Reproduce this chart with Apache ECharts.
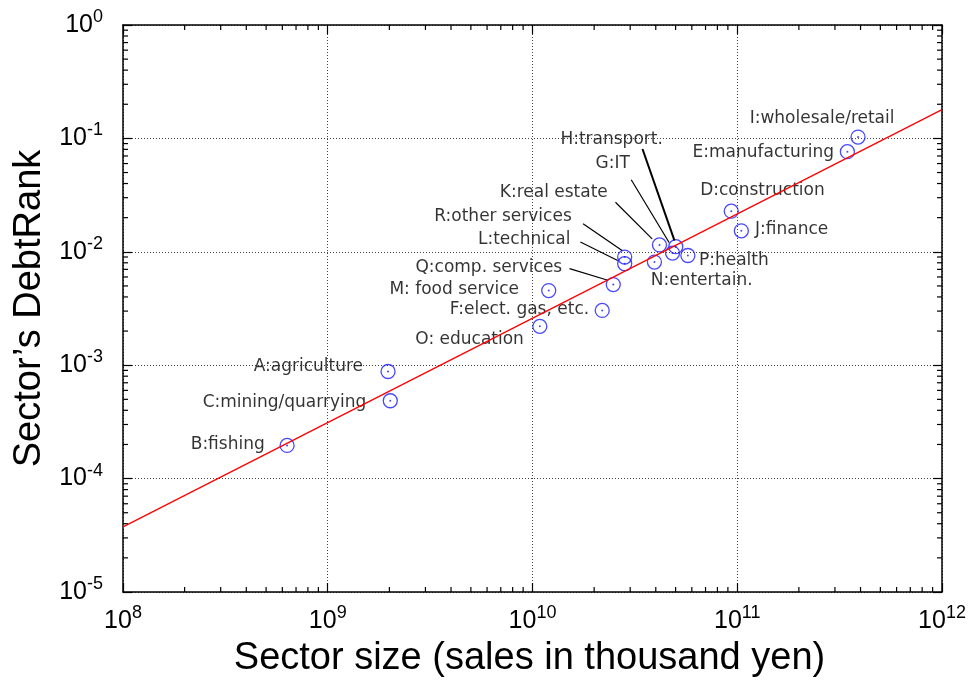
<!DOCTYPE html>
<html>
<head>
<meta charset="utf-8">
<script src="https://cdn.jsdelivr.net/npm/echarts@6/dist/echarts.min.js"></script>
<style>
  html, body { margin: 0; padding: 0; background: #fff; }
  #chart { width: 971px; height: 683px; }
</style>
</head>
<body>
<div id="chart"></div>
<script>
// Sector data: size (sales, thousand yen) vs. DebtRank
const sectorNames = ['A:agriculture', 'B:fishing', 'C:mining/quarrying', 'D:construction',
  'E:manufacturing', 'F:elect. gas, etc.', 'G:IT', 'H:transport.', 'I:wholesale/retail',
  'J:finance', 'K:real estate', 'L:technical', 'M: food service', 'N:entertain.',
  'O: education', 'P:health', 'Q:comp. services', 'R:other services'];
const sectorSize = [1.97e9, 6.33e8, 2.02e9, 9.35e10, 3.45e11, 2.19e10, 4.83e10, 5.01e10,
  3.89e11, 1.047e11, 4.17e10, 2.82e10, 1.20e10, 3.94e10, 1.086e10, 5.74e10, 2.48e10, 2.82e10];
const debtRank = [8.80e-4, 1.96e-4, 4.86e-4, 2.28e-2, 7.64e-2, 3.04e-3, 9.74e-3, 1.11e-2,
  0.1027, 1.53e-2, 1.15e-2, 7.85e-3, 4.55e-3, 8.12e-3, 2.20e-3, 9.28e-3, 5.14e-3, 8.98e-3];

// Power-law fit, evaluated at the ends of the x range
const fitSize = [1e8, 1e12];
const fitDebtRank = [3.75e-5, 0.1796];

// Decades on each axis
const xDecades = [8, 9, 10, 11, 12];
const yDecades = [-5, -4, -3, -2, -1, 0];

// Label placement per sector: [align, dx, dy] in pixels from the marker centre
const labelPlacement = [
  ['right', -24.4, -4], ['right', -21.7, 0], ['right', -23.3, 2.3], ['center', 31.8, -20.3],
  ['right', -12.7, 2], ['right', -12.4, 0], ['right', -42, -89.3], ['right', -12.3, -106],
  ['center', -35.3, -17.7], ['left', 14.3, -1], ['right', -51, -52], ['right', -53.6, -23.3],
  ['right', -29, 0], ['left', -3, 18.7], ['right', -15.3, 14.3], ['left', 11.7, 6],
  ['right', -50.4, -16.7], ['right', -52.3, -40.3]
];
// Leader lines from crowded labels: sector index -> [x1, y1, x2, y2, width]
const leaderLines = {
  6: [-41.3, -73.3, -3.3, -10.3, 1.2],
  7: [-33.3, -97.7, -1.3, -6, 2],
  10: [-44, -42.7, -7.3, -6, 1.2],
  11: [-44.3, -21.7, -7, -3.3, 1.2],
  16: [-43.7, -16, -5.4, -4.3, 1.2],
  17: [-41.6, -33.3, -2.6, -6.6, 1.2]
};

const SYMBOL = 14;
const FONT_AXIS = 'Liberation Sans, Arial, Helvetica, sans-serif';
const FONT_LABEL = 'DejaVu Sans, sans-serif';

const points = sectorSize.map((s, i) => {
  const pl = labelPlacement[i];
  return {
    value: [s, debtRank[i]],
    name: sectorNames[i],
    label: {
      position: [SYMBOL / 2 + pl[1], SYMBOL / 2 + pl[2]],
      align: pl[0],
      verticalAlign: 'middle'
    }
  };
});

const leaderData = Object.keys(leaderLines).map(k => [sectorSize[+k], debtRank[+k], +k]);

// Minor ticks at 2..9 within each decade
const xMinor = [];
xDecades.slice(0, -1).forEach(e => { for (let m = 2; m <= 9; m++) xMinor.push([m * Math.pow(10, e), 1e-3]); });
const yMinor = [];
yDecades.slice(0, -1).forEach(e => { for (let m = 2; m <= 9; m++) yMinor.push([1e10, m * Math.pow(10, e)]); });

const MINOR_LEN = 5;
const powLabel = v => '{b|10}{s|' + Math.round(Math.log10(v)) + '}';
const tickRich = {
  b: { fontFamily: FONT_AXIS, fontSize: 25, color: '#000' },
  s: { fontFamily: FONT_AXIS, fontSize: 18, color: '#000', padding: [0, 0, 16, 0] }
};
const axisLine = { show: true, onZero: false, lineStyle: { color: '#000', width: 1.5 } };
const majorTick = { show: true, inside: true, length: 9, lineStyle: { color: '#000', width: 1.2 } };
const gridLine = { show: true, lineStyle: { color: '#444', width: 1, type: [1, 2] } };

const chart = echarts.init(document.getElementById('chart'), null, { renderer: 'canvas' });
chart.setOption({
  animation: false,
  backgroundColor: '#fff',
  grid: { left: 123, right: 29, top: 25, bottom: 88, containLabel: false },
  xAxis: [{
    type: 'log', logBase: 10, min: 1e8, max: 1e12, position: 'bottom',
    axisLine: axisLine, axisTick: majorTick, splitLine: gridLine,
    axisLabel: { formatter: powLabel, rich: tickRich, margin: 12, showMinLabel: true, showMaxLabel: true },
    name: 'Sector size (sales in thousand yen)', nameLocation: 'middle', nameGap: 48,
    nameTextStyle: { fontFamily: FONT_AXIS, fontSize: 38, color: '#000', padding: [0, 6, 0, 0] }
  }, {
    type: 'log', logBase: 10, min: 1e8, max: 1e12, position: 'top',
    axisLine: axisLine, axisTick: majorTick, splitLine: { show: false }, axisLabel: { show: false }
  }],
  yAxis: [{
    type: 'log', logBase: 10, min: 1e-5, max: 1, position: 'left',
    axisLine: axisLine, axisTick: majorTick, splitLine: gridLine,
    axisLabel: { formatter: powLabel, rich: tickRich, margin: 20, showMinLabel: true, showMaxLabel: true },
    name: 'Sector\u2019s DebtRank', nameLocation: 'middle', nameGap: 72, nameRotate: 90,
    nameTextStyle: { fontFamily: FONT_AXIS, fontSize: 38, color: '#000' }
  }, {
    type: 'log', logBase: 10, min: 1e-5, max: 1, position: 'right',
    axisLine: axisLine, axisTick: majorTick, splitLine: { show: false }, axisLabel: { show: false }
  }],
  series: [
    {
      // minor ticks on the bottom and top axes
      type: 'custom', silent: true, clip: false, data: xMinor,
      renderItem: (params, api) => {
        const p = api.coord([api.value(0), api.value(1)]);
        const cs = params.coordSys;
        const style = { stroke: '#000', lineWidth: 1.2 };
        return { type: 'group', children: [
          { type: 'line', shape: { x1: p[0], y1: cs.y + cs.height, x2: p[0], y2: cs.y + cs.height - MINOR_LEN }, style },
          { type: 'line', shape: { x1: p[0], y1: cs.y, x2: p[0], y2: cs.y + MINOR_LEN }, style }
        ] };
      }
    },
    {
      // minor ticks on the left and right axes
      type: 'custom', silent: true, clip: false, data: yMinor,
      renderItem: (params, api) => {
        const p = api.coord([api.value(0), api.value(1)]);
        const cs = params.coordSys;
        const style = { stroke: '#000', lineWidth: 1.2 };
        return { type: 'group', children: [
          { type: 'line', shape: { x1: cs.x, y1: p[1], x2: cs.x + MINOR_LEN, y2: p[1] }, style },
          { type: 'line', shape: { x1: cs.x + cs.width, y1: p[1], x2: cs.x + cs.width - MINOR_LEN, y2: p[1] }, style }
        ] };
      }
    },
    {
      type: 'scatter', silent: true, data: points,
      symbol: 'circle', symbolSize: SYMBOL,
      itemStyle: { color: 'rgba(0,0,0,0)', borderColor: '#1a1aff', borderWidth: 1.3 },
      label: {
        show: true, formatter: p => p.name,
        fontFamily: FONT_LABEL, fontSize: 17, color: '#000'
      },
      z: 3
    },
    {
      // centre dots of the markers
      type: 'scatter', silent: true,
      data: sectorSize.map((s, i) => [s, debtRank[i]]),
      symbol: 'circle', symbolSize: 2,
      itemStyle: { color: '#1a1aff' },
      z: 3
    },
    {
      type: 'custom', silent: true, clip: false, data: leaderData,
      renderItem: (params, api) => {
        const p = api.coord([api.value(0), api.value(1)]);
        const L = leaderLines[api.value(2)];
        return {
          type: 'line',
          shape: { x1: p[0] + L[0], y1: p[1] + L[1], x2: p[0] + L[2], y2: p[1] + L[3] },
          style: { stroke: '#000', lineWidth: L[4] }
        };
      },
      z: 4
    },
    {
      type: 'line', silent: true,
      data: fitSize.map((s, i) => [s, fitDebtRank[i]]),
      showSymbol: false, symbol: 'none',
      lineStyle: { color: '#ff0000', width: 1.3 },
      z: 5
    }
  ]
});
</script>
</body>
</html>
